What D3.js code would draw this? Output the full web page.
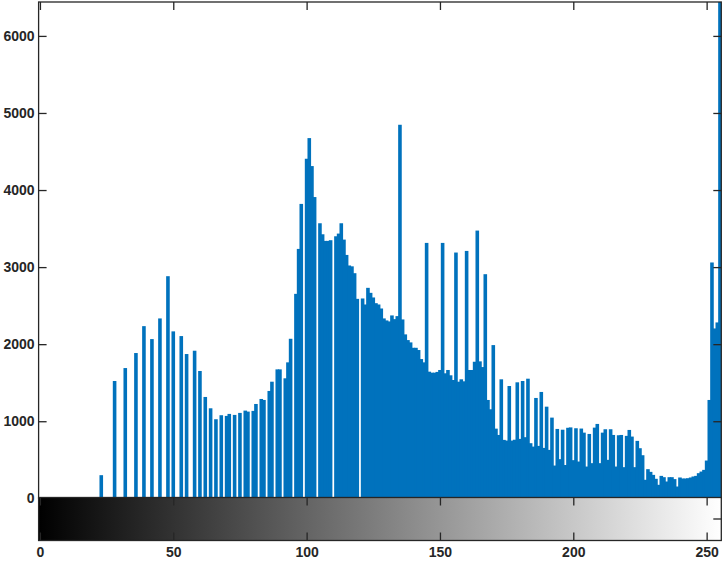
<!DOCTYPE html>
<html>
<head>
<meta charset="utf-8">
<script src="https://cdn.jsdelivr.net/npm/d3@7"></script>
<style>
  body { margin: 0; background: #fff; }
  .axis text { font-family: "Liberation Sans", Arial, sans-serif; font-size: 14px; font-weight: bold; fill: #262626; }
  .axis line { stroke: #262626; stroke-width: 1.3; }
  .box { fill: none; stroke: #262626; stroke-width: 1.3; }
</style>
</head>
<body>
<div id="hist-area"></div>
<script>
// pixel counts per grey level 0..255
var counts = [
  0, 0, 0, 0, 0, 0, 0, 0, 0, 0, 0, 0, 0, 0, 0, 0,
  0, 0, 0, 0, 0, 0, 0, 300, 0, 0, 0, 0, 1522, 0, 0, 0,
  1690, 0, 0, 0, 1885, 0, 0, 2234, 0, 0, 2066, 0, 0, 2334, 0, 0,
  2882, 0, 2166, 0, 0, 2105, 0, 1872, 0, 0, 1915, 0, 1652, 0, 1315, 0,
  1168, 0, 1026, 0, 1078, 0, 1069, 1095, 0, 1082, 0, 1108, 0, 1138, 1125, 0,
  1134, 1224, 0, 1289, 1276, 0, 1393, 1513, 0, 1673, 1673, 0, 1557, 1764, 2070, 0,
  2653, 3236, 3820, 0, 4406, 4674, 4311, 3909, 0, 3569, 3426, 3340, 3340, 3349, 0, 3400,
  3435, 3569, 3357, 3158, 3021, 3010, 2921, 2588, 0, 2593, 2515, 2731, 2666, 2606, 2532, 2515,
  2463, 2334, 2308, 2295, 2373, 2325, 2364, 4847, 2321, 2127, 2053, 2023, 1953, 1953, 1924, 1807,
  1764, 3314, 1643, 1630, 1630, 1640, 1665, 3314, 1622, 1665, 1596, 1535, 3189, 1513, 1544, 1518,
  3210, 1665, 1665, 1772, 3474, 1777, 1703, 2908, 1276, 1155, 1988, 904, 822, 1544, 758, 749,
  1457, 749, 760, 1505, 771, 1522, 793, 1552, 715, 671, 1302, 680, 1380, 654, 1189, 628,
  1047, 425, 900, 508, 890, 432, 915, 920, 495, 909, 477, 905, 852, 412, 835, 456,
  917, 965, 456, 852, 896, 499, 896, 822, 412, 818, 822, 404, 810, 887, 801, 404,
  745, 650, 559, 240, 378, 343, 304, 253, 175, 291, 274, 218, 274, 274, 249, 153,
  270, 257, 257, 261, 270, 283, 291, 326, 347, 369, 490, 1276, 3060, 2204, 2282, 6440
];
var greyLevels = d3.range(counts.length);
var yTickValues = [0, 1000, 2000, 3000, 4000, 5000, 6000];
var xTickValues = [0, 50, 100, 150, 200, 250];
var yMax = 6440;

(function () {
  var svg = d3.select("#hist-area")
    .append("svg")
    .attr("width", 722)
    .attr("height", 566);

  // histogram axes area
  var plotLeft = 38.6, plotRight = 721.3, plotTop = 2, plotBottom = 498.3;
  var barTop = 497.5, barBottom = 540.5; // colour bar strip

  var x = d3.scaleLinear().domain([-0.5, 255.5]).range([plotLeft, plotRight]);
  var y = d3.scaleLinear().domain([0, yMax]).range([plotBottom, plotTop]);

  svg.append("clipPath")
    .attr("id", "plot-clip")
    .append("rect")
    .attr("x", plotLeft)
    .attr("y", plotTop)
    .attr("width", plotRight - plotLeft)
    .attr("height", plotBottom - plotTop);

  // bars (a bit wider than one bin so neighbours touch)
  var half = 0.675;
  svg.append("g")
    .attr("clip-path", "url(#plot-clip)")
    .selectAll("rect")
    .data(greyLevels.filter(function (d) { return counts[d] > 0; }))
    .join("rect")
    .attr("x", function (d) { return x(d - half); })
    .attr("width", function (d) { return x(d + half) - x(d - half); })
    .attr("y", function (d) { return y(counts[d]); })
    .attr("height", function (d) { return plotBottom - y(counts[d]); })
    .attr("fill", "#0072BD");

  // y axis left with labels, ticks pointing in
  svg.append("g")
    .attr("class", "axis")
    .attr("transform", "translate(" + plotLeft + ",0)")
    .call(d3.axisLeft(y).tickValues(yTickValues).tickSize(-8).tickSizeOuter(0).tickPadding(4).tickFormat(d3.format("d")));

  // right and top ticks, no labels
  svg.append("g")
    .attr("class", "axis")
    .attr("transform", "translate(" + plotRight + ",0)")
    .call(d3.axisRight(y).tickValues(yTickValues).tickSize(-8).tickSizeOuter(0).tickFormat(""));

  svg.append("g")
    .attr("class", "axis")
    .attr("transform", "translate(0," + plotTop + ")")
    .call(d3.axisTop(x).tickValues(xTickValues).tickSize(-8).tickSizeOuter(0).tickFormat(""));

  svg.append("rect")
    .attr("class", "box")
    .attr("x", plotLeft)
    .attr("y", plotTop)
    .attr("width", plotRight - plotLeft)
    .attr("height", plotBottom - plotTop);

  // grey colour bar underneath
  var grad = svg.append("defs")
    .append("linearGradient")
    .attr("id", "grey-ramp")
    .attr("x1", "0%").attr("x2", "100%")
    .attr("y1", "0%").attr("y2", "0%");
  grad.append("stop").attr("offset", "0%").attr("stop-color", "#000");
  grad.append("stop").attr("offset", "100%").attr("stop-color", "#fff");

  svg.append("rect")
    .attr("x", plotLeft)
    .attr("y", barTop)
    .attr("width", plotRight - plotLeft)
    .attr("height", barBottom - barTop)
    .attr("fill", "url(#grey-ramp)");

  svg.append("g")
    .attr("class", "axis")
    .attr("transform", "translate(0," + barTop + ")")
    .call(d3.axisTop(x).tickValues(xTickValues).tickSize(-8).tickSizeOuter(0).tickFormat(""));

  svg.append("g")
    .attr("class", "axis")
    .attr("transform", "translate(0," + barBottom + ")")
    .call(d3.axisBottom(x).tickValues(xTickValues).tickSize(-8).tickSizeOuter(0).tickPadding(7).tickFormat(d3.format("d")));

  // small tick on the right side of the colour bar
  svg.append("line")
    .attr("x1", plotRight - 8)
    .attr("x2", plotRight)
    .attr("y1", (barTop + barBottom) / 2)
    .attr("y2", (barTop + barBottom) / 2)
    .attr("stroke", "#262626")
    .attr("stroke-width", 1.3);

  svg.append("rect")
    .attr("class", "box")
    .attr("x", plotLeft)
    .attr("y", barTop)
    .attr("width", plotRight - plotLeft)
    .attr("height", barBottom - barTop);

  // drop d3's own domain lines and font settings, the boxes above do that job
  svg.selectAll(".axis .domain").remove();
  svg.selectAll(".axis").attr("font-size", null).attr("font-family", null);
})();
</script>
</body>
</html>
